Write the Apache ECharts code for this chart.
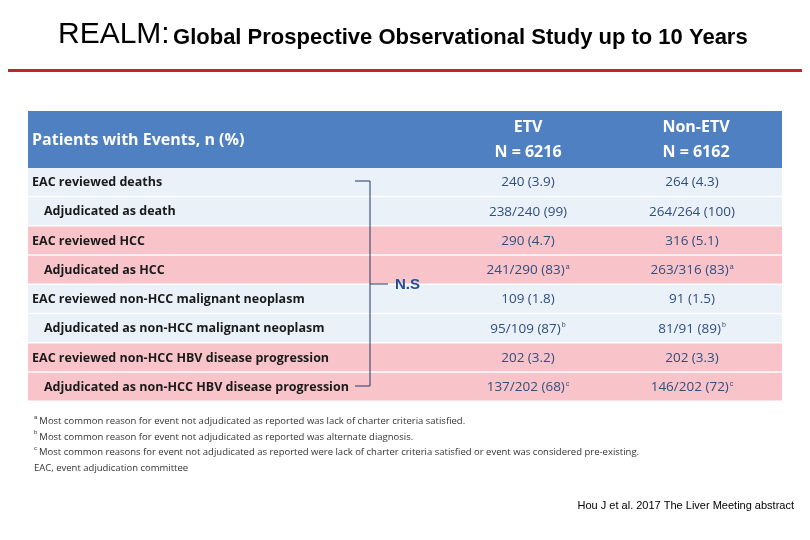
<!DOCTYPE html>
<html><head><meta charset="utf-8">
<script src="https://cdn.jsdelivr.net/npm/echarts@6/dist/echarts.min.js"></script>
<style>body{margin:0}#c{width:810px;height:540px}</style></head>
<body><div id="c"></div>
<script>
var rowLabels = ['EAC reviewed deaths', 'Adjudicated as death', 'EAC reviewed HCC', 'Adjudicated as HCC',
  'EAC reviewed non-HCC malignant neoplasm', 'Adjudicated as non-HCC malignant neoplasm',
  'EAC reviewed non-HCC HBV disease progression', 'Adjudicated as non-HCC HBV disease progression'];
var etvValues = ['240 (3.9)', '238/240 (99)', '290 (4.7)', '241/290 (83)', '109 (1.8)', '95/109 (87)', '202 (3.2)', '137/202 (68)'];
var nonEtvValues = ['264 (4.3)', '264/264 (100)', '316 (5.1)', '263/316 (83)', '91 (1.5)', '81/91 (89)', '202 (3.3)', '146/202 (72)'];
var footMarks = ['', '', '', 'a', '', 'b', '', 'c'];
var rowGroups = ['blue', 'blue', 'pink', 'pink', 'blue', 'blue', 'pink', 'pink'];

var chart = echarts.init(document.getElementById('c'));
var fill = {blue: '#eaf1f9', pink: '#f8c4ca'};
var font = '"Open Sans", "Liberation Sans", sans-serif';

chart.setOption({
  backgroundColor: '#fff',
  grid: {left: 28, right: 28, top: 168, bottom: 138},
  xAxis: {type: 'value', min: 0, max: 1, show: false},
  yAxis: {type: 'category', data: rowLabels, inverse: true, show: false},
  graphic: {elements: [
    {type: 'text', left: 58, top: 20, z: 100, style: {rich: {
      a: {fontSize: 30, fontFamily: 'Arial, Liberation Sans', fill: '#000'},
      b: {fontSize: 22, fontWeight: 'bold', fontFamily: 'Arial, Liberation Sans', fill: '#000', padding: [6, 0, 0, 0]}},
      text: '{a|REALM:} {b|Global Prospective Observational Study up to 10 Years}'}},
    {type: 'rect', z: 100, shape: {x: 8, y: 69, width: 794, height: 3}, style: {fill: '#c0262d'}},
    {type: 'rect', z: 100, shape: {x: 28, y: 111, width: 754, height: 57}, style: {fill: '#4f81c2'}},
    {type: 'text', z: 101, x: 32, y: 140, style: {text: 'Patients with Events, n (%)', fill: '#fff', font: 'bold 16px ' + font, verticalAlign: 'middle'}},
    {type: 'text', z: 101, x: 528, y: 140, style: {text: 'ETV\nN = 6216', fill: '#fff', font: 'bold 16px ' + font, align: 'center', verticalAlign: 'middle', lineHeight: 25}},
    {type: 'text', z: 101, x: 696, y: 140, style: {text: 'Non-ETV\nN = 6162', fill: '#fff', font: 'bold 16px ' + font, align: 'center', verticalAlign: 'middle', lineHeight: 25}},
    {type: 'polyline', z: 100, shape: {points: [[355, 181], [370, 181], [370, 386], [355, 386]]}, style: {stroke: '#1f3864', lineWidth: 1, fill: null}},
    {type: 'line', z: 100, shape: {x1: 370, y1: 284, x2: 388, y2: 284}, style: {stroke: '#1f3864', lineWidth: 1}},
    {type: 'text', z: 100, x: 395, y: 285, style: {text: 'N.S', fill: '#1f4e9a', font: 'bold 15px Arial, Liberation Sans', verticalAlign: 'middle'}},
    {type: 'text', z: 100, x: 34, y: 414, style: {fill: '#333', font: '9.5px ' + font, lineHeight: 15.5, rich: {s: {fontSize: 6, verticalAlign: 'top', padding: [0, 2, 6, 0]}},
      text: '{s|a}Most common reason for event not adjudicated as reported was lack of charter criteria satisfied.\n{s|b}Most common reason for event not adjudicated as reported was alternate diagnosis.\n{s|c}Most common reasons for event not adjudicated as reported were lack of charter criteria satisfied or event was considered pre-existing.\nEAC, event adjudication committee'}},
    {type: 'text', z: 100, right: 16, top: 500, style: {text: 'Hou J et al. 2017 The Liver Meeting abstract', fill: '#000', font: '11px Arial, Liberation Sans'}}
  ]},
  series: [{
    type: 'custom',
    z: 1,
    data: rowLabels.map(function (l, i) { return [0, i]; }),
    renderItem: function (params, api) {
      var i = api.value(1);
      var p0 = api.coord([0, i]);
      var p1 = api.coord([1, i]);
      var h = api.size([0, 1])[1];
      var top = p0[1] - h / 2;
      var indent = rowLabels[i].indexOf('Adjudicated') === 0 ? 16 : 4;
      function sup(v, m) { return m ? '{v|' + v + '}{s|' + m + '}' : '{v|' + v + '}'; }
      var rich = {v: {font: '13.5px ' + font, fill: '#2f4f80'}, s: {fontSize: 7, fill: '#2f4f80', verticalAlign: 'top', padding: [0, 0, 7, 1]}};
      return {type: 'group', children: [
        {type: 'rect', shape: {x: p0[0], y: top, width: p1[0] - p0[0], height: h}, style: {fill: fill[rowGroups[i]]}},
        {type: 'rect', shape: {x: p0[0], y: top + h - 1.5, width: p1[0] - p0[0], height: 2.5}, style: {fill: '#fff'}},
        {type: 'text', x: p0[0] + indent, y: p0[1], style: {text: rowLabels[i], font: 'bold 12.5px ' + font, fill: '#1a1a1a', verticalAlign: 'middle'}},
        {type: 'text', x: 528, y: p0[1], style: {text: sup(etvValues[i], footMarks[i]), rich: rich, align: 'center', verticalAlign: 'middle'}},
        {type: 'text', x: 692, y: p0[1], style: {text: sup(nonEtvValues[i], footMarks[i]), rich: rich, align: 'center', verticalAlign: 'middle'}}
      ]};
    }
  }]
});
</script></body></html>
